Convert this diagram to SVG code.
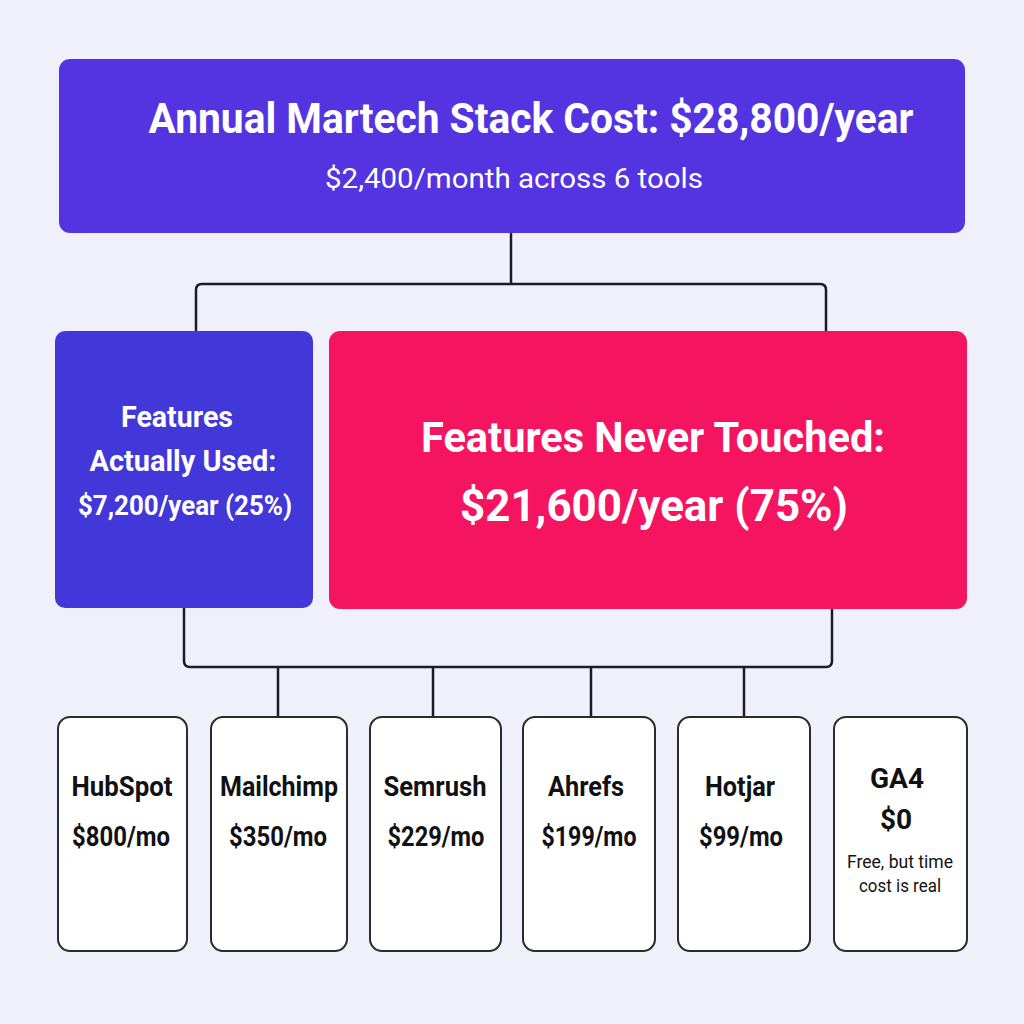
<svg xmlns="http://www.w3.org/2000/svg" width="1024" height="1024" viewBox="0 0 1024 1024">
<style>
.bg{fill:#eff0f9}
.hdr{fill:#5434e0}
.used{fill:#4237d9}
.never{fill:#f5145f}
.tool{fill:#ffffff;stroke:#2b2b2b;stroke-width:2}
.conn{fill:none;stroke:#1c1c28;stroke-width:2.5;stroke-linejoin:round}
text{font-family:Roboto,"Liberation Sans",sans-serif;text-anchor:middle}
.w{fill:#ffffff;font-weight:700}
.k{fill:#111111;font-weight:700}
.s{fill:#111111;font-weight:400}
</style>
<rect class="bg" x="0" y="0" width="1024" height="1024"/>
<g id="connectors">
<path class="conn" d="M511 233 V284 M196 331 V290 Q196 284 202 284 H820 Q826 284 826 290 V331"/>
<path class="conn" d="M184 608 V661 Q184 667 190 667 H826 Q832 667 832 661 V609"/>
<path class="conn" d="M278 667 V717 M433 667 V717 M591 667 V717 M744 667 V717"/>
</g>
<g id="node-total">
<rect class="hdr" x="59" y="59" width="906" height="174" rx="11"/>
<text class="w" x="531" y="133" font-size="42" textLength="765" lengthAdjust="spacingAndGlyphs">Annual Martech Stack Cost: $28,800/year</text>
<text x="514" y="188" font-size="28" fill="#ffffff" font-weight="400" textLength="378" lengthAdjust="spacingAndGlyphs">$2,400/month across 6 tools</text>
</g>
<g id="node-used">
<rect class="used" x="55" y="331" width="258" height="277" rx="10"/>
<text class="w" x="177" y="427" font-size="30" textLength="112" lengthAdjust="spacingAndGlyphs">Features</text>
<text class="w" x="183" y="471" font-size="30" textLength="187" lengthAdjust="spacingAndGlyphs">Actually Used:</text>
<text class="w" x="185" y="515" font-size="27" textLength="214" lengthAdjust="spacingAndGlyphs">$7,200/year (25%)</text>
</g>
<g id="node-never">
<rect class="never" x="329" y="331" width="638" height="278" rx="11"/>
<text class="w" x="653" y="452" font-size="42" textLength="464" lengthAdjust="spacingAndGlyphs">Features Never Touched:</text>
<text class="w" x="654" y="521" font-size="45" textLength="388" lengthAdjust="spacingAndGlyphs">$21,600/year (75%)</text>
</g>
<g id="node-hubspot">
<rect class="tool" x="58" y="717" width="129" height="234" rx="12"/>
<text class="k" x="122" y="796" font-size="28" textLength="101" lengthAdjust="spacingAndGlyphs">HubSpot</text>
<text class="k" x="121" y="846" font-size="27" textLength="98" lengthAdjust="spacingAndGlyphs">$800/mo</text>
</g>
<g id="node-mailchimp">
<rect class="tool" x="211" y="717" width="136" height="234" rx="12"/>
<text class="k" x="279" y="796" font-size="28" textLength="118" lengthAdjust="spacingAndGlyphs">Mailchimp</text>
<text class="k" x="278" y="846" font-size="27" textLength="98" lengthAdjust="spacingAndGlyphs">$350/mo</text>
</g>
<g id="node-semrush">
<rect class="tool" x="370" y="717" width="131" height="234" rx="12"/>
<text class="k" x="435" y="796" font-size="28" textLength="103" lengthAdjust="spacingAndGlyphs">Semrush</text>
<text class="k" x="436" y="846" font-size="27" textLength="97" lengthAdjust="spacingAndGlyphs">$229/mo</text>
</g>
<g id="node-ahrefs">
<rect class="tool" x="523" y="717" width="132" height="234" rx="12"/>
<text class="k" x="586" y="796" font-size="28" textLength="76" lengthAdjust="spacingAndGlyphs">Ahrefs</text>
<text class="k" x="589" y="846" font-size="27" textLength="95" lengthAdjust="spacingAndGlyphs">$199/mo</text>
</g>
<g id="node-hotjar">
<rect class="tool" x="678" y="717" width="132" height="234" rx="12"/>
<text class="k" x="740" y="796" font-size="28" textLength="70" lengthAdjust="spacingAndGlyphs">Hotjar</text>
<text class="k" x="741" y="846" font-size="27" textLength="84" lengthAdjust="spacingAndGlyphs">$99/mo</text>
</g>
<g id="node-ga4">
<rect class="tool" x="834" y="717" width="133" height="234" rx="12"/>
<text class="k" x="897" y="788" font-size="28">GA4</text>
<text class="k" x="896" y="829" font-size="28">$0</text>
<text class="s" x="900" y="868" font-size="19" textLength="106" lengthAdjust="spacingAndGlyphs">Free, but time</text>
<text class="s" x="900" y="892" font-size="19" textLength="82" lengthAdjust="spacingAndGlyphs">cost is real</text>
</g>
</svg>
